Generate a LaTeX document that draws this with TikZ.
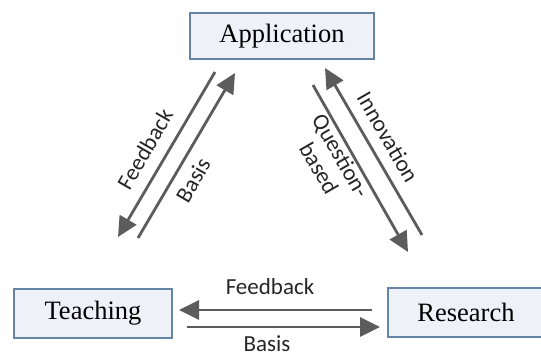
\documentclass[tikz,border=0pt]{standalone}
\usepackage{fontspec}
\setmainfont{Liberation Serif}
\newfontfamily\labelfont{Carlito}
\usetikzlibrary{arrows.meta}
\definecolor{boxline}{HTML}{6585A8}
\definecolor{boxfill}{HTML}{EEF2F8}
\definecolor{arrowgray}{HTML}{5C5C5C}
\tikzset{
  block/.style={draw=boxline, line width=1.6pt, fill=boxfill, inner sep=0pt,
    font=\fontsize{26.5}{30}\selectfont},
  flow/.style={draw=arrowgray, line width=2.8pt, -{Triangle[length=20pt,width=19pt]}},
  lbl/.style={font=\fontsize{23}{25}\selectfont\labelfont, text=black!85, inner sep=0pt}
}
\begin{document}
\begin{tikzpicture}[x=1pt,y=-1pt]
  \useasboundingbox (0,0) rectangle (541,356);
  \clip (0,0) rectangle (541,356);
  % boxes
  \node[block, minimum width=184pt, minimum height=46pt] (app) at (282,36) {Application};
  \node[block, minimum width=158pt, minimum height=49pt] (teach) at (93,313.5) {Teaching};
  \node[block, minimum width=156pt, minimum height=49pt] (res) at (466,312.5) {Research};
  % arrow ends
  \coordinate (fbA) at (215,72);   \coordinate (fbB) at (118,237);
  \coordinate (baA) at (138,238);  \coordinate (baB) at (235,73);
  \coordinate (quA) at (313,85);   \coordinate (quB) at (408,252);
  \coordinate (inA) at (422,235);  \coordinate (inB) at (325,68);
  \coordinate (fcA) at (372,310);  \coordinate (fcB) at (179,310);
  \coordinate (bcA) at (187,327);  \coordinate (bcB) at (380,327);
  % arrows
  \draw[flow] (fbA) -- (fbB);
  \draw[flow] (baA) -- (baB);
  \draw[flow] (quA) -- (quB);
  \draw[flow] (inA) -- (inB);
  \draw[flow] (fcA) -- (fcB);
  \draw[flow] (bcA) -- (bcB);
  % labels
  \node[lbl, rotate=60] (fbL) at (145,149) {Feedback};
  \node[lbl, rotate=60] (baL) at (193,180) {Basis};
  \node[lbl, rotate=-60] (inL) at (388,137) {Innovation};
  \node[lbl, rotate=-60, align=center] (quL) at (330,162) {Question-\\based};
  \node[lbl] (fcL) at (270,287) {Feedback};
  \node[lbl] (bcL) at (267,344) {Basis};
\end{tikzpicture}
\end{document}
